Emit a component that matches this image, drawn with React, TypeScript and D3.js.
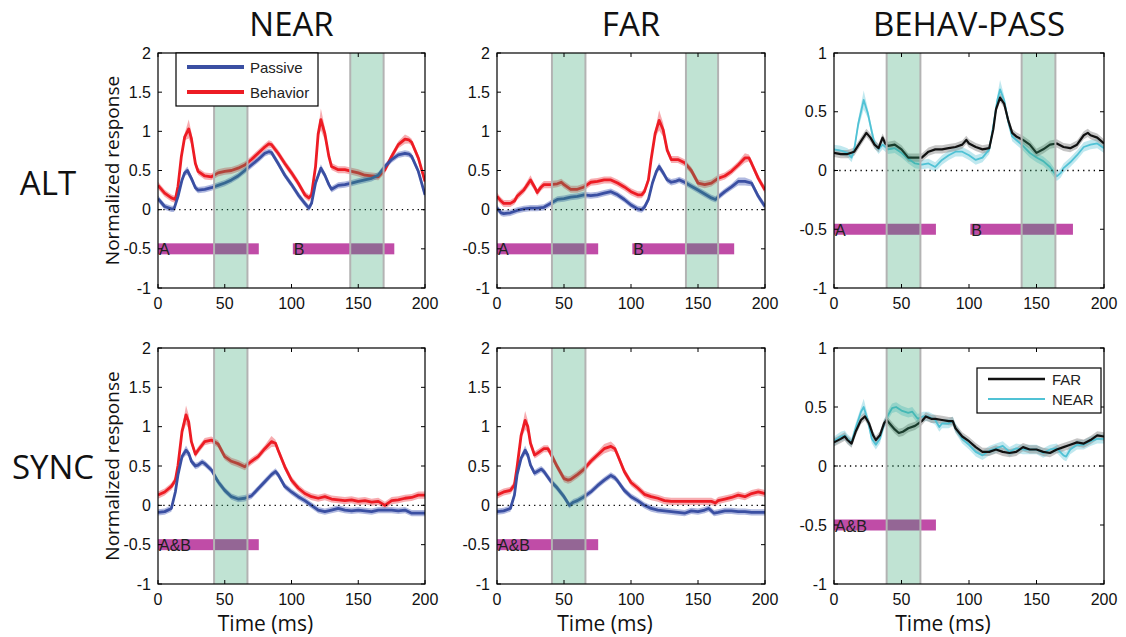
import * as d3 from "d3";

// [time ms, value, optional sem]
type Pt = [number, number, number?];

const rowNames = ["ALT", "SYNC"];
const colNames = ["NEAR", "FAR", "BEHAV-PASS"];
const xTicks = [0, 50, 100, 150, 200];
const yTicksWide = [-1, -0.5, 0, 0.5, 1, 1.5, 2];
const yTicksDiff = [-1, -0.5, 0, 0.5, 1];

const nearAltBehavior: Pt[] = [
  [0, 0.31], [5, 0.21], [10, 0.15], [13, 0.13], [15, 0.3], [17.5, 0.68], [20, 0.93], [23, 1.03, 0.12], [25, 0.91, 0.08],
  [28, 0.59], [30, 0.49], [35, 0.43], [40, 0.42], [45, 0.47], [50, 0.49], [55, 0.5], [60, 0.53], [65, 0.57], [70, 0.64],
  [75, 0.72], [80, 0.8], [83, 0.84], [85, 0.83], [90, 0.72], [95, 0.59], [100, 0.47], [105, 0.34], [110, 0.19], [113, 0.15],
  [115, 0.19], [118, 0.55], [120, 0.97], [122, 1.15, 0.14], [125, 0.97, 0.08], [128, 0.68], [130, 0.55], [135, 0.51],
  [140, 0.51], [145, 0.49], [150, 0.47], [155, 0.44], [160, 0.43], [165, 0.42], [170, 0.51], [175, 0.68], [180, 0.83],
  [185, 0.9, 0.06], [188, 0.89], [190, 0.86], [195, 0.66], [200, 0.36],
];
const nearAltPassive: Pt[] = [
  [0, 0.14], [5, 0.04], [10, 0.01], [12, 0.01], [15, 0.17], [18, 0.38], [20, 0.47], [22, 0.5, 0.05], [25, 0.4], [28, 0.28],
  [30, 0.25], [35, 0.26], [40, 0.28], [45, 0.31], [50, 0.34], [55, 0.38], [60, 0.43], [65, 0.5], [70, 0.57], [75, 0.64],
  [80, 0.72], [83, 0.74], [85, 0.73], [90, 0.59], [95, 0.44], [100, 0.32], [105, 0.19], [110, 0.08], [113, 0.02], [115, 0.08],
  [118, 0.34], [122, 0.53, 0.05], [125, 0.44], [128, 0.32], [130, 0.26], [135, 0.31], [140, 0.32], [145, 0.34], [150, 0.36],
  [155, 0.38], [160, 0.4], [165, 0.44], [170, 0.55], [175, 0.64], [180, 0.7], [185, 0.72], [188, 0.71], [190, 0.68],
  [195, 0.49], [200, 0.19],
];

const farAltBehavior: Pt[] = [
  [0, 0.17], [3, 0.11], [5, 0.08], [10, 0.08], [13, 0.11], [15, 0.17], [20, 0.25], [25, 0.38, 0.06], [28, 0.29], [30, 0.22],
  [33, 0.29], [35, 0.32], [40, 0.32], [45, 0.33], [48, 0.35], [50, 0.32], [55, 0.26], [60, 0.26], [65, 0.29], [70, 0.35],
  [75, 0.36], [80, 0.38], [85, 0.38], [90, 0.34], [95, 0.29], [100, 0.23], [105, 0.19], [108, 0.19], [110, 0.23],
  [113, 0.38], [115, 0.64], [118, 0.97], [121, 1.14, 0.13], [124, 1.02, 0.09], [127, 0.76], [130, 0.64], [135, 0.64],
  [140, 0.6], [145, 0.5], [150, 0.34], [155, 0.32], [160, 0.34], [165, 0.4], [170, 0.43], [175, 0.49], [180, 0.57],
  [185, 0.66, 0.06], [188, 0.66], [190, 0.59], [195, 0.4], [200, 0.25],
];
const farAltPassive: Pt[] = [
  [0, 0.02], [3, -0.04], [5, -0.05], [10, -0.04], [15, -0.01], [20, 0.01], [25, 0.02], [30, 0.02], [35, 0.03], [40, 0.08],
  [45, 0.13], [50, 0.14], [55, 0.16], [60, 0.17], [65, 0.19], [70, 0.18], [75, 0.19], [80, 0.21], [85, 0.23], [90, 0.19],
  [95, 0.13], [100, 0.06], [105, 0.01], [108, 0.0], [110, 0.03], [113, 0.13], [116, 0.34], [119, 0.49], [121, 0.55, 0.05],
  [124, 0.47], [127, 0.38], [130, 0.35], [133, 0.36], [136, 0.38], [140, 0.35], [145, 0.3], [150, 0.25], [155, 0.2],
  [160, 0.15], [163, 0.13], [165, 0.16], [170, 0.23], [175, 0.29], [180, 0.36, 0.05], [185, 0.36, 0.05], [190, 0.34],
  [195, 0.17], [200, 0.04],
];

const diffAltFar: Pt[] = [
  [0, 0.15], [5, 0.14], [10, 0.14], [15, 0.16], [20, 0.25], [24, 0.32], [27, 0.28], [30, 0.22], [33, 0.19], [36, 0.28],
  [38, 0.23], [40, 0.21], [45, 0.22], [50, 0.18], [55, 0.11], [60, 0.11], [65, 0.11], [70, 0.16], [75, 0.18], [80, 0.18],
  [85, 0.19], [90, 0.2], [95, 0.22], [98, 0.26], [100, 0.23], [105, 0.2], [110, 0.18], [115, 0.19], [118, 0.35], [120, 0.52],
  [123, 0.62], [126, 0.57], [129, 0.43], [132, 0.32], [135, 0.29], [140, 0.26], [145, 0.22], [150, 0.15], [155, 0.18],
  [160, 0.22], [165, 0.23], [170, 0.2], [175, 0.19], [180, 0.22], [185, 0.3], [188, 0.32], [190, 0.3], [195, 0.28],
  [200, 0.23],
];
const diffAltNear: Pt[] = [
  [0, 0.18], [5, 0.17], [10, 0.15], [13, 0.11], [15, 0.18], [18, 0.4], [22, 0.6, 0.08], [25, 0.49], [28, 0.33], [30, 0.23],
  [33, 0.18], [36, 0.22], [40, 0.18], [45, 0.19], [50, 0.15], [55, 0.1], [60, 0.06], [65, 0.05], [70, 0.06], [75, 0.03],
  [80, 0.09], [85, 0.13], [90, 0.16], [95, 0.16], [100, 0.13], [105, 0.09], [110, 0.11], [115, 0.18], [118, 0.38],
  [121, 0.6], [123, 0.69, 0.08], [126, 0.6], [129, 0.42], [132, 0.29], [135, 0.26], [140, 0.21], [145, 0.15], [150, 0.11],
  [155, 0.08], [160, 0.03], [165, -0.05], [168, -0.02], [170, 0.02], [175, 0.07], [180, 0.13], [185, 0.2], [190, 0.22],
  [195, 0.23], [200, 0.19],
];

const nearSyncBehavior: Pt[] = [
  [0, 0.13], [5, 0.17], [10, 0.24], [13, 0.32], [15, 0.51], [18, 0.94], [21, 1.15, 0.12], [23, 1.06, 0.09], [25, 0.81],
  [28, 0.65], [30, 0.7], [35, 0.81], [40, 0.83], [45, 0.78], [50, 0.62], [55, 0.56], [60, 0.53], [65, 0.49], [70, 0.56],
  [75, 0.62], [80, 0.72], [85, 0.81, 0.07], [88, 0.79], [90, 0.7], [95, 0.49], [100, 0.32], [105, 0.22], [110, 0.15],
  [115, 0.11], [120, 0.09], [125, 0.11], [130, 0.08], [135, 0.07], [140, 0.06], [145, 0.07], [150, 0.05], [155, 0.06],
  [160, 0.04], [165, 0.05], [170, 0.0], [175, 0.06], [180, 0.07], [185, 0.09], [190, 0.1], [195, 0.13], [200, 0.13],
];
const nearSyncPassive: Pt[] = [
  [0, -0.09], [5, -0.08], [10, -0.04], [13, 0.17], [15, 0.39], [18, 0.62], [21, 0.7, 0.06], [23, 0.66], [25, 0.56],
  [28, 0.5], [30, 0.51], [33, 0.55], [35, 0.53], [40, 0.45], [45, 0.3], [50, 0.19], [55, 0.11], [60, 0.08], [65, 0.09],
  [70, 0.12], [75, 0.21], [80, 0.3], [85, 0.39], [88, 0.43], [90, 0.39], [95, 0.24], [100, 0.17], [105, 0.11], [110, 0.06],
  [115, 0.0], [120, -0.06], [125, -0.08], [130, -0.06], [135, -0.04], [140, -0.06], [145, -0.07], [150, -0.06],
  [155, -0.07], [160, -0.08], [165, -0.06], [170, -0.06], [175, -0.06], [180, -0.07], [185, -0.06], [190, -0.1],
  [195, -0.1], [200, -0.1],
];

const farSyncBehavior: Pt[] = [
  [0, 0.13], [5, 0.17], [10, 0.19], [13, 0.26], [15, 0.49], [18, 0.89], [21, 1.08, 0.12], [23, 1.0, 0.08], [25, 0.79],
  [28, 0.64], [30, 0.66], [35, 0.72], [38, 0.72], [40, 0.66], [45, 0.49], [50, 0.34], [53, 0.32], [55, 0.33], [60, 0.39],
  [65, 0.46], [70, 0.56], [75, 0.64], [80, 0.72, 0.06], [85, 0.75, 0.06], [88, 0.72], [90, 0.64], [95, 0.43], [100, 0.29],
  [105, 0.22], [110, 0.14], [115, 0.11], [120, 0.09], [125, 0.06], [130, 0.05], [140, 0.05], [150, 0.05], [160, 0.05],
  [163, 0.03], [165, 0.06], [170, 0.08], [175, 0.1], [180, 0.13], [185, 0.11], [190, 0.15], [195, 0.17], [200, 0.15],
];
const farSyncPassive: Pt[] = [
  [0, -0.08], [5, -0.07], [10, -0.04], [13, 0.13], [15, 0.39], [18, 0.6], [21, 0.7, 0.06], [23, 0.64], [25, 0.51],
  [28, 0.41], [30, 0.43], [33, 0.46], [35, 0.43], [40, 0.31], [45, 0.22], [50, 0.11], [54, 0.0], [57, 0.04], [60, 0.06],
  [65, 0.11], [70, 0.17], [75, 0.25], [80, 0.32], [85, 0.38], [88, 0.35], [90, 0.31], [95, 0.19], [100, 0.11], [105, 0.06],
  [110, 0.0], [115, -0.04], [120, -0.06], [125, -0.07], [130, -0.08], [135, -0.09], [140, -0.1], [145, -0.07],
  [150, -0.08], [155, -0.06], [158, -0.04], [162, -0.1], [165, -0.09], [170, -0.07], [175, -0.07], [180, -0.08],
  [185, -0.08], [190, -0.09], [195, -0.09], [200, -0.09],
];

const diffSyncFar: Pt[] = [
  [0, 0.2], [5, 0.23], [8, 0.25], [10, 0.22], [13, 0.19], [16, 0.29], [20, 0.39], [23, 0.42], [26, 0.36], [29, 0.26],
  [31, 0.22], [34, 0.26], [37, 0.36], [39, 0.39], [42, 0.35], [45, 0.31], [48, 0.28], [51, 0.29], [55, 0.32], [60, 0.34],
  [65, 0.38], [68, 0.42], [72, 0.4], [75, 0.4], [80, 0.39], [85, 0.38], [88, 0.38], [90, 0.32], [95, 0.25], [100, 0.21],
  [105, 0.16], [110, 0.12], [115, 0.12], [120, 0.14], [125, 0.12], [130, 0.11], [135, 0.12], [140, 0.16], [145, 0.14],
  [150, 0.14], [155, 0.12], [160, 0.11], [165, 0.14], [170, 0.16], [175, 0.18], [180, 0.2], [185, 0.19], [190, 0.22],
  [195, 0.26], [200, 0.25],
];
const diffSyncNear: Pt[] = [
  [0, 0.21], [5, 0.25], [8, 0.26], [10, 0.23], [13, 0.2], [16, 0.32], [20, 0.46], [22, 0.5, 0.07], [25, 0.39], [28, 0.23],
  [31, 0.18], [34, 0.23], [37, 0.35], [40, 0.43], [43, 0.49], [46, 0.5], [50, 0.47], [55, 0.45], [58, 0.46], [62, 0.4],
  [66, 0.42], [70, 0.42], [75, 0.39], [78, 0.33], [80, 0.36], [85, 0.36], [88, 0.38], [90, 0.32], [95, 0.23], [100, 0.18],
  [105, 0.12], [110, 0.09], [115, 0.13], [120, 0.15], [125, 0.17], [130, 0.12], [135, 0.15], [140, 0.14], [145, 0.14],
  [150, 0.14], [155, 0.11], [160, 0.14], [165, 0.15], [170, 0.09], [172, 0.08], [175, 0.14], [180, 0.18], [185, 0.18],
  [190, 0.21], [195, 0.23], [200, 0.23],
];

// analysis windows (ms) and stimulus bars
const shadesAlt = [
  [[42, 67], [144, 169]],
  [[41, 66], [141, 165]],
  [[39, 64], [139, 164]],
];
const shadesSync = [[[42, 67]], [[41, 66]], [[39, 64]]];
const barsAlt = [
  { from: 0, to: 75.5, label: "A" },
  { from: 101, to: 177, label: "B" },
];
const barsSync = [{ from: 0, to: 75.5, label: "A&B" }];

const RED = "#ed1c24";
const BLUE = "#3a4fa2";
const BLACK = "#111111";
const CYAN = "#50c2d5";

const colX = [
  { l: 158, r: 425 },
  { l: 497, r: 765 },
  { l: 834, r: 1104 },
];
const rowY = [
  { t: 53, b: 288 },
  { t: 348, b: 584 },
];

const TICK_FONT = "'Liberation Sans', Arial, sans-serif";
const BIG_FONT = "'Open Sans', 'Noto Sans', sans-serif";

type Series = { pts: Pt[]; color: string; band: string; bandOpacity: number; width: number; sem: number };

function Panel(props: {
  box: { l: number; r: number; t: number; b: number };
  yDomain: [number, number];
  yTicks: number[];
  series: Series[];
  shades: number[][];
  bars: { from: number; to: number; label: string }[];
  yLabel: boolean;
  xLabel: boolean;
}) {
  const { box, yDomain, yTicks, series, shades, bars } = props;
  const x = d3.scaleLinear().domain([0, 200]).range([box.l, box.r]);
  const y = d3.scaleLinear().domain(yDomain).range([box.b, box.t]);
  const line = d3
    .line<Pt>()
    .x((d) => x(d[0]))
    .y((d) => y(d[1]));
  const clipId = `clip-${box.l}-${box.t}`;
  const barH = 11;
  return (
    <g>
      <defs>
        <clipPath id={clipId}>
          <rect x={box.l} y={box.t} width={box.r - box.l} height={box.b - box.t} />
        </clipPath>
      </defs>
      <g clipPath={`url(#${clipId})`}>
        {series.map((s, i) => {
          const area = d3
            .area<Pt>()
            .x((d) => x(d[0]))
            .y0((d) => y(d[1] - (d[2] ?? s.sem)))
            .y1((d) => y(d[1] + (d[2] ?? s.sem)));
          return (
            <path key={"b" + i} d={area(s.pts) ?? ""} fill={s.band} opacity={s.bandOpacity} />
          );
        })}
        {series.map((s, i) => (
          <path key={"l" + i} d={line(s.pts) ?? ""} fill="none" stroke={s.color} strokeWidth={s.width} strokeLinejoin="round" />
        ))}
        <line x1={box.l} x2={box.r} y1={y(0)} y2={y(0)} stroke="#000" strokeWidth={1.3} strokeDasharray="1.3 4" />
        {bars.map((b, i) => (
          <g key={"bar" + i}>
            <rect x={x(b.from)} y={y(-0.5) - barH / 2} width={x(b.to) - x(b.from)} height={barH} fill="#bb3d9f" opacity={0.92} />
            <text x={x(b.from) + 1} y={y(-0.5) + 1} fontFamily={TICK_FONT} fontSize={16} fill="#222" dominantBaseline="central">
              {b.label}
            </text>
          </g>
        ))}
        {shades.map((s, i) => (
          <g key={"s" + i}>
            <rect x={x(s[0])} y={box.t} width={x(s[1]) - x(s[0])} height={box.b - box.t} fill="#2da26c" opacity={0.3} />
            <line x1={x(s[0])} x2={x(s[0])} y1={box.t} y2={box.b} stroke="#b3b3b3" strokeWidth={2} />
            <line x1={x(s[1])} x2={x(s[1])} y1={box.t} y2={box.b} stroke="#b3b3b3" strokeWidth={2} />
          </g>
        ))}
      </g>
      <rect x={box.l} y={box.t} width={box.r - box.l} height={box.b - box.t} fill="none" stroke="#000" strokeWidth={1.2} />
      {xTicks.map((t) => (
        <g key={"xt" + t}>
          <line x1={x(t)} x2={x(t)} y1={box.b} y2={box.b - 4} stroke="#000" />
          <line x1={x(t)} x2={x(t)} y1={box.t} y2={box.t + 4} stroke="#000" />
          <text x={x(t)} y={box.b + 21} textAnchor="middle" fontFamily={TICK_FONT} fontSize={16} fill="#111">
            {t}
          </text>
        </g>
      ))}
      {yTicks.map((t) => (
        <g key={"yt" + t}>
          <line x1={box.l} x2={box.l + 4} y1={y(t)} y2={y(t)} stroke="#000" />
          <line x1={box.r} x2={box.r - 4} y1={y(t)} y2={y(t)} stroke="#000" />
          <text x={box.l - 7} y={y(t)} textAnchor="end" dominantBaseline="central" fontFamily={TICK_FONT} fontSize={16} fill="#111">
            {String(t)}
          </text>
        </g>
      ))}
      {props.yLabel && (
        <text
          transform={`translate(${box.l - 39},${(box.t + box.b) / 2}) rotate(-90)`}
          textAnchor="middle"
          fontFamily={BIG_FONT}
          fontSize={19}
          fill="#111"
        >
          Normalized response
        </text>
      )}
      {props.xLabel && (
        <text x={(box.l + box.r) / 2 - 26} y={631} textAnchor="middle" fontFamily={BIG_FONT} fontSize={21} fill="#111">
          Time (ms)
        </text>
      )}
    </g>
  );
}

const mk = (pts: Pt[], kind: "beh" | "pas" | "far" | "near"): Series => {
  if (kind === "beh") return { pts, color: RED, band: "#ef5a61", bandOpacity: 0.5, width: 2.8, sem: 0.045 };
  if (kind === "pas") return { pts, color: BLUE, band: "#6f80c6", bandOpacity: 0.55, width: 2.8, sem: 0.04 };
  if (kind === "far") return { pts, color: BLACK, band: "#8c8c8c", bandOpacity: 0.5, width: 2.2, sem: 0.035 };
  return { pts, color: CYAN, band: "#9edbe6", bandOpacity: 0.65, width: 1.8, sem: 0.04 };
};

export default function App() {
  const altSeries = [
    [mk(nearAltBehavior, "beh"), mk(nearAltPassive, "pas")],
    [mk(farAltBehavior, "beh"), mk(farAltPassive, "pas")],
    [mk(diffAltNear, "near"), mk(diffAltFar, "far")],
  ];
  const syncSeries = [
    [mk(nearSyncBehavior, "beh"), mk(nearSyncPassive, "pas")],
    [mk(farSyncBehavior, "beh"), mk(farSyncPassive, "pas")],
    [mk(diffSyncNear, "near"), mk(diffSyncFar, "far")],
  ];
  return (
    <svg
      width={1126}
      height={637}
      style={{ position: "absolute", left: 0, top: 0, background: "#fff" }}
    >
      <rect width={1126} height={637} fill="#fff" />
      {colNames.map((n, i) => (
        <text key={n} x={(colX[i].l + colX[i].r) / 2} y={36} textAnchor="middle" fontFamily={BIG_FONT} fontSize={33} fill="#111">
          {n}
        </text>
      ))}
      <text x={48} y={195} textAnchor="middle" fontFamily={BIG_FONT} fontSize={33} fill="#111">
        {rowNames[0]}
      </text>
      <text x={53} y={479} textAnchor="middle" fontFamily={BIG_FONT} fontSize={33} fill="#111">
        {rowNames[1]}
      </text>
      {[0, 1].map((r) =>
        [0, 1, 2].map((c) => (
          <Panel
            key={`${r}-${c}`}
            box={{ ...colX[c], ...rowY[r] }}
            yDomain={c === 2 ? [-1, 1] : [-1, 2]}
            yTicks={c === 2 ? yTicksDiff : yTicksWide}
            series={r === 0 ? altSeries[c] : syncSeries[c]}
            shades={r === 0 ? shadesAlt[c] : shadesSync[c]}
            bars={r === 0 ? barsAlt : barsSync}
            yLabel={c === 0}
            xLabel={r === 1}
          />
        ))
      )}
      {/* legend: NEAR/ALT panel */}
      <g fontFamily={TICK_FONT} fontSize={15} fill="#222">
        <rect x={176} y={53} width={142} height={53} fill="#fff" stroke="#000" strokeWidth={1.2} />
        <line x1={187} x2={244} y1={67} y2={67} stroke={BLUE} strokeWidth={4} />
        <text x={250} y={67} dominantBaseline="central">Passive</text>
        <line x1={187} x2={244} y1={92} y2={92} stroke={RED} strokeWidth={4} />
        <text x={250} y={92} dominantBaseline="central">Behavior</text>
      </g>
      {/* legend: BEHAV-PASS/SYNC panel */}
      <g fontFamily={TICK_FONT} fontSize={15} fill="#222">
        <rect x={977} y={368} width={124} height={45} fill="#fff" stroke="#000" strokeWidth={1.2} />
        <line x1={988} x2={1045} y1={379} y2={379} stroke={BLACK} strokeWidth={2.4} />
        <text x={1052} y={379} dominantBaseline="central">FAR</text>
        <line x1={988} x2={1045} y1={399} y2={399} stroke={CYAN} strokeWidth={2} />
        <text x={1052} y={399} dominantBaseline="central">NEAR</text>
      </g>
    </svg>
  );
}
